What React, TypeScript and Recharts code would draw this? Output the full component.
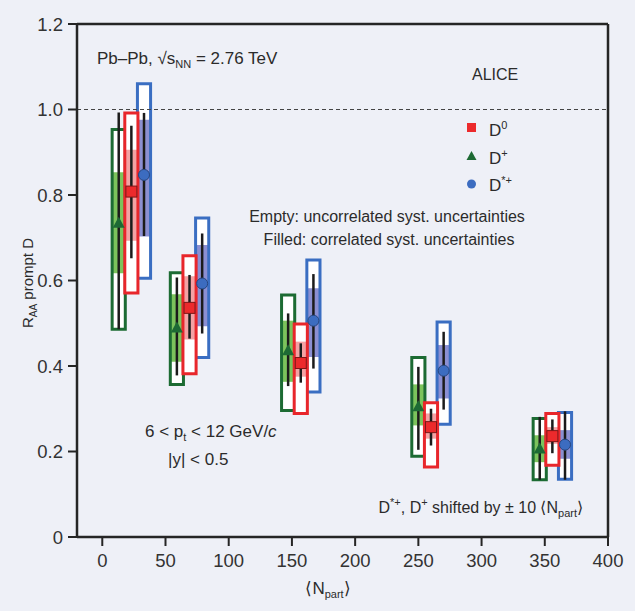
import * as React from 'react'
import { ComposedChart, ReferenceArea, ReferenceLine, Scatter, XAxis, YAxis } from 'recharts'

// centrality classes, <Npart> of the D0 points (D+ and D*+ are shifted by -/+10)
const npart = [23, 69, 157, 260, 356]
const shift = 10
const boxHalf = 5.2

const xTicks = [0, 50, 100, 150, 200, 250, 300, 350, 400]
const yTicks = [0, 0.2, 0.4, 0.6, 0.8, 1.0, 1.2]

// D0
const d0Value = [0.808, 0.536, 0.407, 0.257, 0.236]
const d0StatLo = [0.652, 0.464, 0.361, 0.214, 0.196]
const d0StatHi = [0.962, 0.613, 0.453, 0.3, 0.275]
const d0UncorrLo = [0.571, 0.382, 0.289, 0.164, 0.168]
const d0UncorrHi = [0.992, 0.658, 0.498, 0.314, 0.289]
const d0CorrLo = [0.693, 0.462, 0.375, 0.23, 0.218]
const d0CorrHi = [0.906, 0.61, 0.457, 0.289, 0.257]

// D+
const dpValue = [0.735, 0.49, 0.437, 0.306, 0.207]
const dpStatLo = [0.486, 0.378, 0.353, 0.204, 0.134]
const dpStatHi = [0.993, 0.607, 0.523, 0.398, 0.281]
const dpUncorrLo = [0.486, 0.357, 0.296, 0.189, 0.134]
const dpUncorrHi = [0.953, 0.618, 0.566, 0.42, 0.277]
const dpCorrLo = [0.617, 0.41, 0.363, 0.261, 0.175]
const dpCorrHi = [0.853, 0.568, 0.506, 0.357, 0.238]

// D*+
const dsValue = [0.847, 0.593, 0.506, 0.389, 0.216]
const dsStatLo = [0.704, 0.476, 0.394, 0.298, 0.134]
const dsStatHi = [0.992, 0.71, 0.615, 0.48, 0.294]
const dsUncorrLo = [0.605, 0.42, 0.339, 0.264, 0.135]
const dsUncorrHi = [1.06, 0.746, 0.648, 0.503, 0.291]
const dsCorrLo = [0.703, 0.493, 0.421, 0.324, 0.183]
const dsCorrHi = [0.976, 0.683, 0.582, 0.449, 0.25]

const BG = '#eef0f7'
const AXIS = '#252525'
const FONT = '"Liberation Sans", Arial, sans-serif'

const squareShape = (p: any) => (
  <rect x={p.cx - 5.5} y={p.cy - 5.5} width={11} height={11} fill="#ec2a2c" stroke="#7d1717" strokeWidth={1} />
)
const triangleShape = (p: any) => (
  <polygon points={`${p.cx},${p.cy - 6} ${p.cx - 6},${p.cy + 5} ${p.cx + 6},${p.cy + 5}`} fill="#1d6a34" />
)
const circleShape = (p: any) => (
  <circle cx={p.cx} cy={p.cy} r={5.5} fill="#3c6cc0" stroke="#27467e" strokeWidth={1} />
)

// drawing order: D+, D*+, D0 (D0 boxes sit on top)
const species = [
  {
    key: 'dplus', offset: -shift, value: dpValue, statLo: dpStatLo, statHi: dpStatHi,
    uncLo: dpUncorrLo, uncHi: dpUncorrHi, corLo: dpCorrLo, corHi: dpCorrHi,
    stroke: '#1c6b33', fill: '#7cc35c', shape: triangleShape,
  },
  {
    key: 'dstar', offset: shift, value: dsValue, statLo: dsStatLo, statHi: dsStatHi,
    uncLo: dsUncorrLo, uncHi: dsUncorrHi, corLo: dsCorrLo, corHi: dsCorrHi,
    stroke: '#3a6ec2', fill: '#8b8fd2', shape: circleShape,
  },
  {
    key: 'd0', offset: 0, value: d0Value, statLo: d0StatLo, statHi: d0StatHi,
    uncLo: d0UncorrLo, uncHi: d0UncorrHi, corLo: d0CorrLo, corHi: d0CorrHi,
    stroke: '#e8262b', fill: '#f4a2a4', shape: squareShape,
  },
]

const Sub = ({ children, size = 11 }: { children: React.ReactNode, size?: number }) => (
  <tspan baselineShift={-4} fontSize={size}>{children}</tspan>
)
const Sup = ({ children, size = 11 }: { children: React.ReactNode, size?: number }) => (
  <tspan baselineShift={7} fontSize={size}>{children}</tspan>
)

export default function App() {
  const boxes: React.ReactNode[] = []
  const bars: React.ReactNode[] = []
  species.forEach(s => {
    npart.forEach((n, i) => {
      const x = n + s.offset
      boxes.push(
        <ReferenceArea key={`${s.key}-w-${i}`} x1={x - boxHalf} x2={x + boxHalf} y1={s.uncLo[i]} y2={s.uncHi[i]}
          fill="#ffffff" fillOpacity={1} stroke="none" ifOverflow="visible" />,
        <ReferenceArea key={`${s.key}-c-${i}`} x1={x - boxHalf} x2={x + boxHalf} y1={s.corLo[i]} y2={s.corHi[i]}
          fill={s.fill} fillOpacity={1} stroke="none" ifOverflow="visible" />,
        <ReferenceArea key={`${s.key}-u-${i}`} x1={x - boxHalf} x2={x + boxHalf} y1={s.uncLo[i]} y2={s.uncHi[i]}
          fill="none" fillOpacity={0} stroke={s.stroke} strokeWidth={3} ifOverflow="visible" />,
      )
    })
  })
  species.forEach(s => {
    npart.forEach((n, i) => {
      const x = n + s.offset
      bars.push(
        <ReferenceLine key={`${s.key}-e-${i}`} segment={[{ x, y: s.statLo[i] }, { x, y: s.statHi[i] }]}
          stroke="#1b1b1b" strokeWidth={2.5} ifOverflow="visible" />,
      )
    })
  })

  return (
    <div style={{ position: 'absolute', left: 0, top: 0, width: 635, height: 614, background: '#ffffff' }}>
      <div style={{ position: 'absolute', left: 0, top: 0, width: 635, height: 611, background: BG }} />
      <div style={{ position: 'absolute', left: 0, top: 0 }}>
        <ComposedChart width={635} height={614} margin={{ top: 24, right: 27, bottom: 0, left: 0 }}>
          <XAxis type="number" dataKey="x" domain={[-20, 400]} ticks={xTicks} allowDataOverflow height={77}
            tickSize={9} tickMargin={8} axisLine={{ stroke: AXIS, strokeWidth: 2.5 }}
            tickLine={{ stroke: AXIS, strokeWidth: 2 }} tick={{ fill: '#333', fontSize: 18.5, fontFamily: FONT }} />
          <YAxis type="number" dataKey="y" domain={[0, 1.2]} ticks={yTicks} allowDataOverflow width={77}
            tickFormatter={(v: number) => (v === 0 ? '0' : v.toFixed(1))}
            tickSize={9} tickMargin={5} axisLine={{ stroke: AXIS, strokeWidth: 2.5 }}
            tickLine={{ stroke: AXIS, strokeWidth: 2 }} tick={{ fill: '#333', fontSize: 18.5, fontFamily: FONT }} />
          {/* closing frame: top and right edges */}
          <ReferenceLine y={1.2} stroke={AXIS} strokeWidth={2.5} />
          <ReferenceLine x={400} stroke={AXIS} strokeWidth={2.5} />
          <ReferenceLine y={1} stroke="#444" strokeWidth={1.2} strokeDasharray="4 3" />
          {boxes}
          {bars}
          {species.map(s => (
            <Scatter key={s.key} name={s.key} isAnimationActive={false} shape={s.shape}
              data={npart.map((n, i) => ({ x: n + s.offset, y: s.value[i] }))} />
          ))}
        </ComposedChart>
      </div>
      <svg width={635} height={614} style={{ position: 'absolute', left: 0, top: 0, pointerEvents: 'none' }}
        fontFamily={FONT} fill="#2b2b2b">
        <text x={97} y={64} fontSize={17}>
          Pb–Pb, √s<Sub>NN</Sub> = 2.76 TeV
        </text>
        <text x={472} y={80} fontSize={16}>ALICE</text>

        <rect x={467} y={123} width={9} height={9} fill="#ec2a2c" />
        <text x={489} y={136} fontSize={17}>D<Sup>0</Sup></text>
        <polygon points="471.5,151 466.5,160 476.5,160" fill="#1d6a34" />
        <text x={489} y={164} fontSize={17}>D<Sup>+</Sup></text>
        <circle cx={471.5} cy={184} r={4.5} fill="#3c6cc0" />
        <text x={489} y={191} fontSize={17}>D<Sup>*+</Sup></text>

        <text x={387} y={222} fontSize={16} textAnchor="middle">Empty: uncorrelated syst. uncertainties</text>
        <text x={389} y={245} fontSize={16} textAnchor="middle">Filled: correlated syst. uncertainties</text>

        <text x={145} y={437} fontSize={17}>
          6 &lt; p<Sub>t</Sub> &lt; 12 GeV/<tspan fontStyle="italic">c</tspan>
        </text>
        <text x={168} y={465} fontSize={17}>|y| &lt; 0.5</text>

        <text x={583} y={513} fontSize={16} textAnchor="end">
          D<Sup>*+</Sup>, D<Sup>+</Sup> shifted by ± 10 ⟨N<Sub>part</Sub>⟩
        </text>

        <text x={328} y={594} fontSize={17} textAnchor="middle">
          ⟨N<Sub>part</Sub>⟩
        </text>
        <text x={0} y={0} fontSize={15} textAnchor="middle" transform="translate(33, 283) rotate(-90)">
          R<Sub size={10}>AA</Sub> prompt D
        </text>
      </svg>
    </div>
  )
}
